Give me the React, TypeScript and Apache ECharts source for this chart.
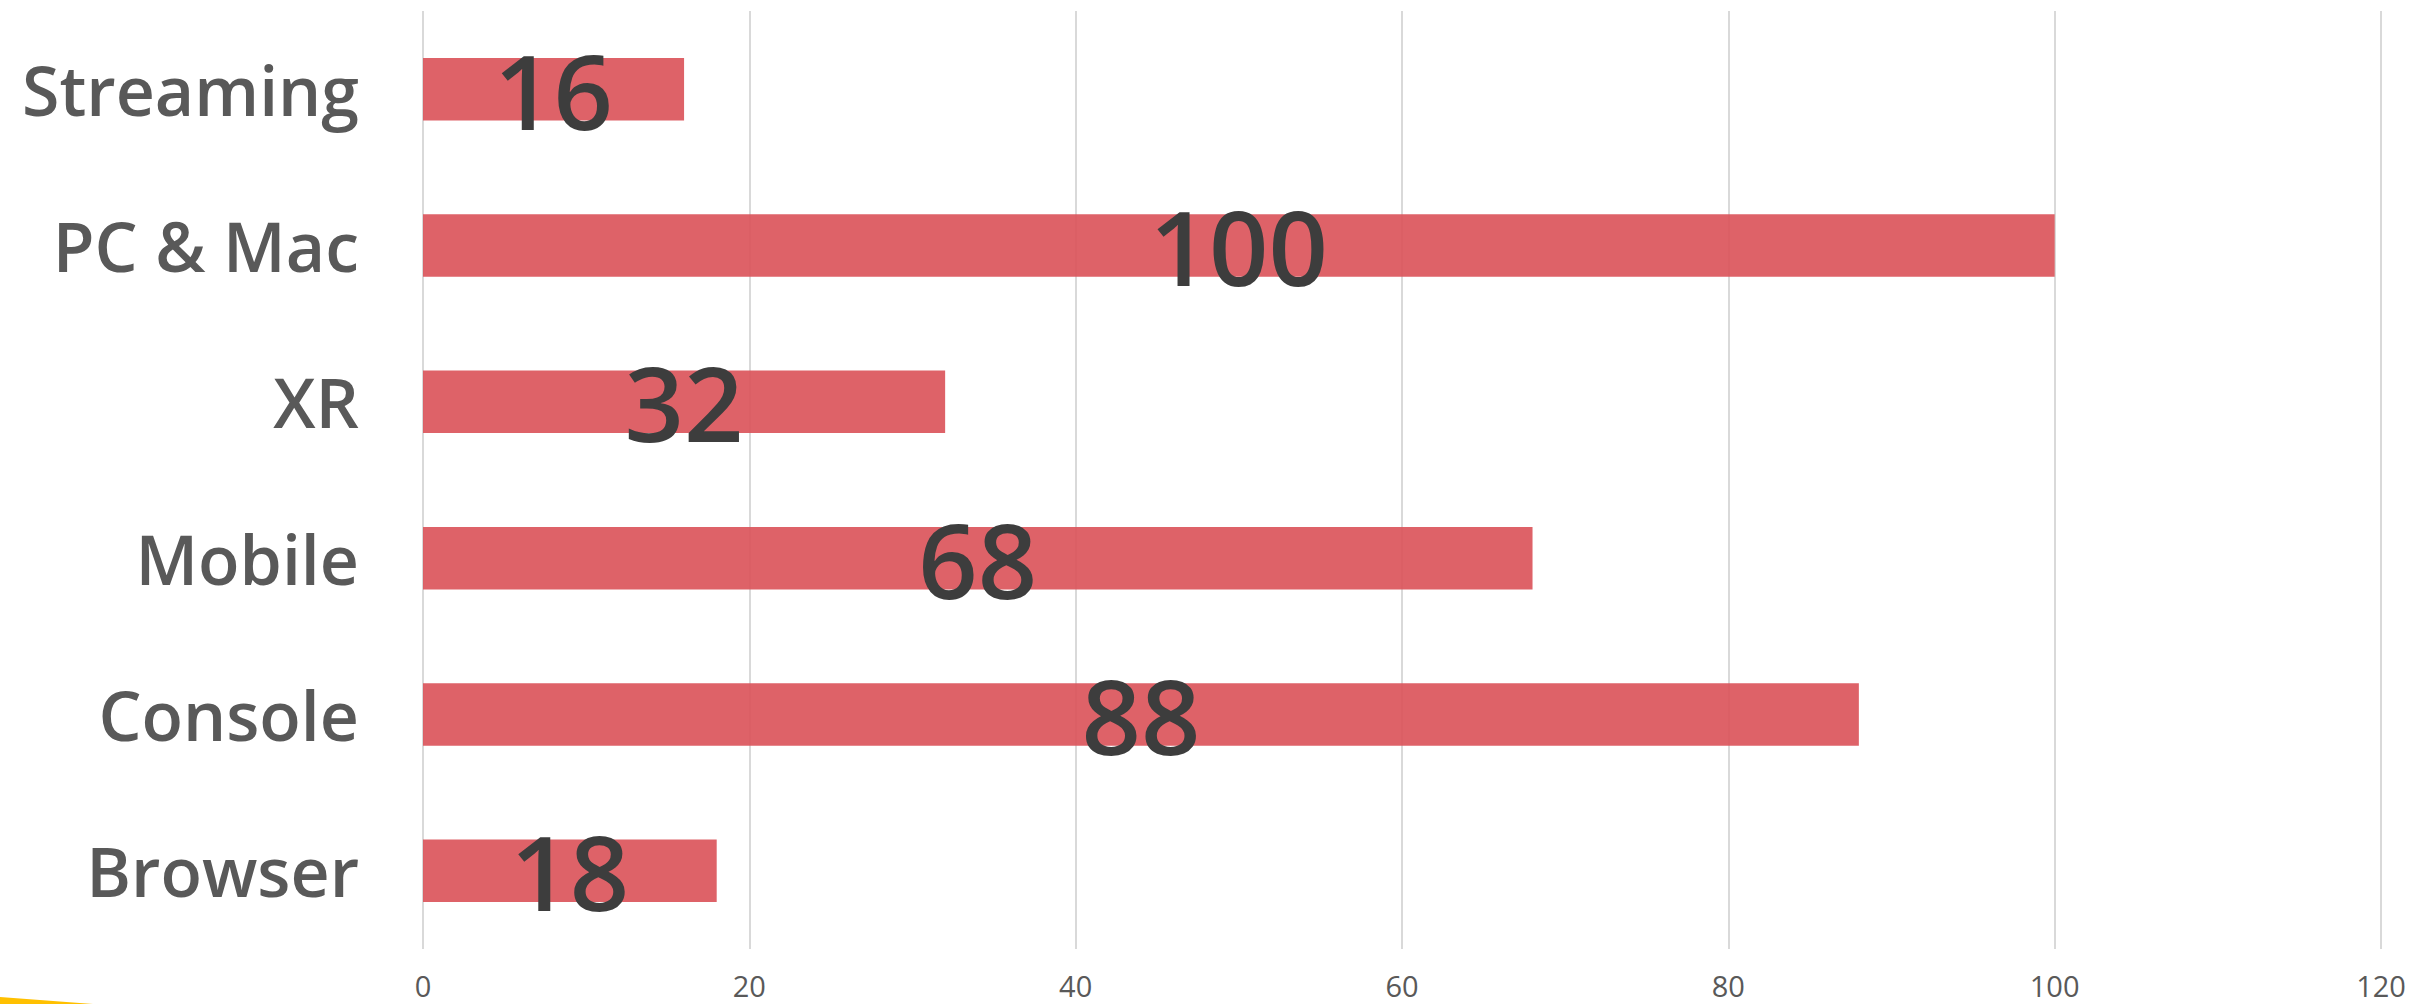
import React, { useEffect, useRef } from "react";
import * as echarts from "echarts";

const categories = ["Streaming", "PC & Mac", "XR", "Mobile", "Console", "Browser"];
const values = [16, 100, 32, 68, 88, 18];
const xMin = 0;
const xMax = 120;
const xInterval = 20;

export default function App() {
  const ref = useRef<HTMLDivElement>(null);
  useEffect(() => {
    if (!ref.current) return;
    const chart = echarts.init(ref.current, undefined, { renderer: "svg" });
    chart.setOption({
      animation: false,
      backgroundColor: "#ffffff",
      grid: { left: 423, right: 31, top: 11, bottom: 55, containLabel: false },
      xAxis: {
        type: "value",
        min: xMin,
        max: xMax,
        interval: xInterval,
        axisLine: { show: false },
        axisTick: { show: false },
        splitLine: { show: true, lineStyle: { color: "#d9d9d9", width: 2 } },
        axisLabel: {
          color: "#595959",
          fontSize: 29,
          fontFamily: "Open Sans",
          margin: 22,
        },
      },
      yAxis: {
        type: "category",
        inverse: true,
        data: categories,
        axisLine: { show: false },
        axisTick: { show: false },
        splitLine: { show: false },
        axisLabel: {
          color: "#595959",
          fontSize: 68,
          fontWeight: 600,
          fontFamily: "Open Sans",
          margin: 64,
          padding: [0, 0, 8, 0],
        },
      },
      series: [
        {
          type: "bar",
          data: values,
          barWidth: "40%",
          itemStyle: { color: "rgba(219,85,91,0.92)" },
          label: {
            show: true,
            position: "inside",
            color: "#3d3d3d",
            fontSize: 104,
            fontWeight: 600,
            fontFamily: "Open Sans",
            textBorderWidth: 0,
            padding: [0, 0, 6, 0],
          },
        },
      ],
      graphic: [
        {
          type: "polygon",
          shape: { points: [[0, 997], [93, 1004], [0, 1004]] },
          style: { fill: "#FFC000" },
          z: 100,
        },
      ],
    });
    return () => chart.dispose();
  }, []);
  return (
    <div
      ref={ref}
      style={{ position: "fixed", left: 0, top: 0, width: 2412, height: 1004 }}
    />
  );
}
